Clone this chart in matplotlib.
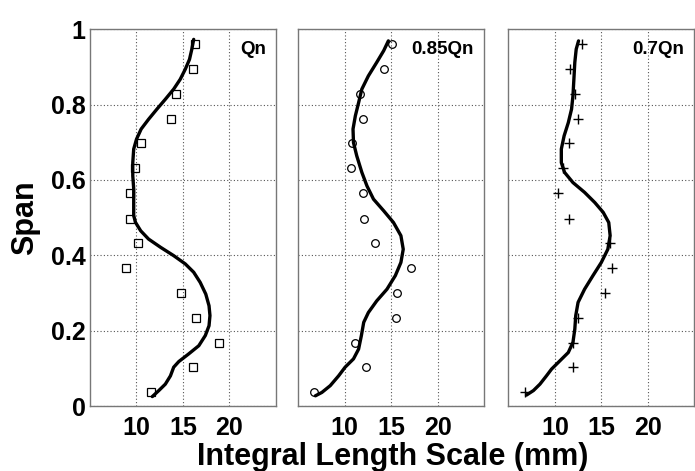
"""Integral length scale profiles along the span for three flow rates."""

import matplotlib.pyplot as plt

plt.rcParams["font.family"] = ["Liberation Sans", "DejaVu Sans"]
plt.rcParams["font.weight"] = "bold"

SPAN_PTS = [0.036, 0.103, 0.168, 0.234, 0.299, 0.366, 0.432, 0.497,
            0.566, 0.631, 0.697, 0.763, 0.829, 0.894, 0.960]

# measured points (mm), bottom to top
QN_PTS = [11.6, 16.1, 18.9, 16.4, 14.8, 8.9, 10.2, 9.35,
          9.25, 9.8, 10.5, 13.7, 14.3, 16.1, 16.3]
Q085_PTS = [6.7, 12.3, 11.1, 15.55, 15.6, 17.1, 13.3, 12.05,
            11.95, 10.7, 10.8, 11.95, 11.7, 14.25, 15.1]
Q07_PTS = [6.8, 11.95, 11.95, 12.45, 15.35, 16.1, 15.9, 11.55,
           10.3, 10.9, 11.55, 12.45, 12.2, 11.6, 12.95]

# smoothed profiles, bottom to top
QN_FIT_Y = [0.025, 0.041, 0.058, 0.080, 0.103, 0.118, 0.138, 0.160, 0.187,
            0.213, 0.240, 0.266, 0.297, 0.328, 0.355, 0.377, 0.399, 0.421,
            0.443, 0.465, 0.487, 0.505, 0.540, 0.576, 0.611, 0.646, 0.682,
            0.708, 0.735, 0.761, 0.788, 0.814, 0.841, 0.867, 0.894, 0.920,
            0.947, 0.973]
QN_FIT_X = [11.7, 12.4, 13.1, 13.65, 14.0, 14.55, 15.6, 16.7, 17.4,
            17.8, 17.9, 17.8, 17.45, 16.85, 16.15, 15.25, 14.0, 12.6,
            11.3, 10.45, 9.9, 9.7, 9.7, 9.7, 9.6, 9.6, 9.7,
            10.0, 10.5, 11.3, 12.2, 13.1, 14.0, 14.7, 15.25, 15.7,
            15.95, 16.15]
Q085_FIT_Y = [0.027, 0.036, 0.054, 0.080, 0.103, 0.125, 0.151, 0.187, 0.222,
              0.248, 0.279, 0.310, 0.346, 0.381, 0.416, 0.452, 0.487, 0.518,
              0.549, 0.584, 0.620, 0.664, 0.699, 0.735, 0.770, 0.805, 0.841,
              0.876, 0.912, 0.943, 0.969]
Q085_FIT_X = [6.85, 7.55, 8.45, 9.35, 10.05, 10.95, 11.5, 11.8, 12.05,
              12.55, 13.45, 14.55, 15.45, 16.05, 16.3, 16.05, 15.25, 14.2,
              13.1, 12.4, 11.85, 11.3, 10.95, 10.9, 11.15, 11.5, 11.85,
              12.55, 13.45, 14.2, 14.7]
Q07_FIT_Y = [0.029, 0.041, 0.058, 0.080, 0.098, 0.120, 0.142, 0.169, 0.204,
             0.240, 0.275, 0.310, 0.346, 0.381, 0.416, 0.452, 0.487, 0.514,
             0.540, 0.567, 0.593, 0.620, 0.646, 0.682, 0.717, 0.752, 0.788,
             0.823, 0.867, 0.912, 0.947, 0.969]
Q07_FIT_X = [6.95, 7.7, 8.4, 9.1, 9.65, 10.55, 11.45, 11.95, 12.15,
             12.25, 12.5, 13.2, 14.1, 15.0, 15.7, 15.95, 15.8, 15.2,
             14.3, 13.2, 11.95, 11.05, 10.7, 10.7, 11.0, 11.45, 11.8,
             11.95, 12.05, 12.15, 12.3, 12.55]

PANELS = [
    ("Qn", QN_PTS, QN_FIT_X, QN_FIT_Y, "s"),
    ("0.85Qn", Q085_PTS, Q085_FIT_X, Q085_FIT_Y, "o"),
    ("0.7Qn", Q07_PTS, Q07_FIT_X, Q07_FIT_Y, "+"),
]

fig = plt.figure(figsize=(6.95, 4.71), dpi=100)
lefts = [0.1295, 0.429, 0.7314]

for i, (label, pts, fx, fy, mk) in enumerate(PANELS):
    ax = fig.add_axes([lefts[i], 0.138, 0.2676, 0.800])
    ax.plot(fx, fy, color="black", lw=2.4, solid_capstyle="round",
            solid_joinstyle="round", zorder=3)
    if mk == "+":
        ax.plot(pts, SPAN_PTS, ls="none", marker="+", ms=7, mew=1.0,
                color="black", zorder=4)
    else:
        ax.plot(pts, SPAN_PTS, ls="none", marker=mk, ms=5.5, mew=0.9,
                mfc="none", mec="black", zorder=4)
    ax.set_xlim(5, 25)
    ax.set_ylim(0, 1)
    ax.set_xticks([10, 15, 20])
    ax.set_yticks([0, 0.2, 0.4, 0.6, 0.8, 1])
    ax.grid(True, ls=(0, (1, 2)), color="#555555", lw=0.8)
    ax.tick_params(length=0, labelsize=18)
    ax.tick_params(axis="x", pad=7)
    ax.tick_params(axis="y", pad=3)
    for s in ax.spines.values():
        s.set_color("#777777")
        s.set_linewidth(1.0)
    if i == 0:
        ax.set_yticklabels(["0", "0.2", "0.4", "0.6", "0.8", "1"])
    else:
        ax.set_yticklabels([])
    ax.text(0.945, 0.945, label, transform=ax.transAxes, ha="right",
            va="center", fontsize=13.5, fontweight="bold")

fig.text(0.036, 0.537, "Span", rotation=90, ha="center", va="center",
         fontsize=22, fontweight="bold")
fig.text(0.5645, 0.0127, "Integral Length Scale (mm)", ha="center",
         va="baseline", fontsize=22, fontweight="bold")

fig.savefig("out.png", dpi=100)
